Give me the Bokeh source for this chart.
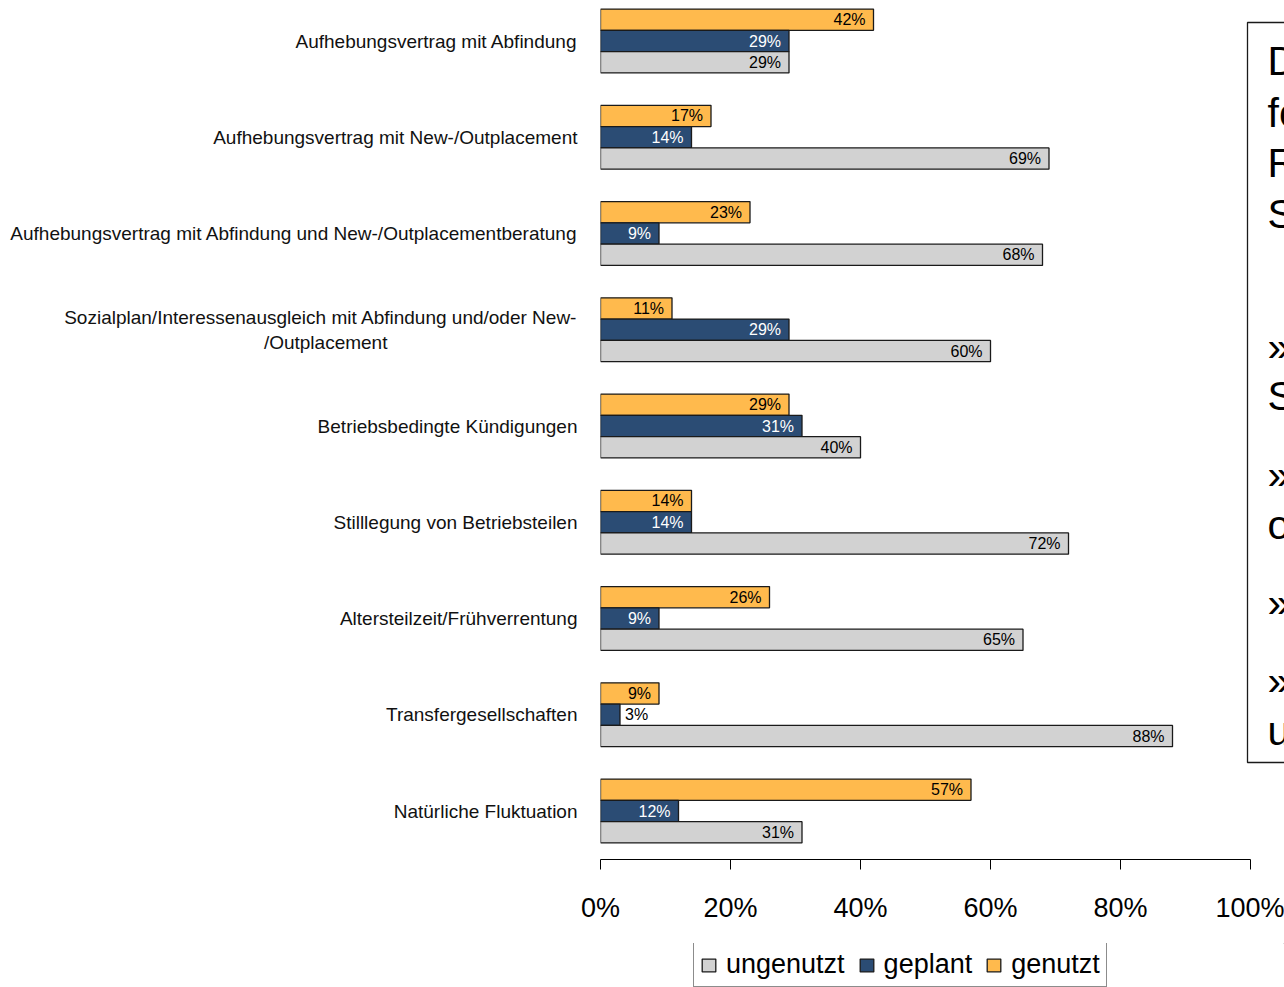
from bokeh.plotting import figure
from bokeh.models import ColumnDataSource, FixedTicker, Legend, LegendItem, Range1d
from bokeh.layouts import column
from bokeh.core.properties import value
from bokeh.embed import file_html
from bokeh.resources import INLINE

# ---------------- data ----------------
categories = [
    "Aufhebungsvertrag mit Abfindung",
    "Aufhebungsvertrag mit New-/Outplacement",
    "Aufhebungsvertrag mit Abfindung und New-/Outplacementberatung",
    "Sozialplan/Interessenausgleich mit Abfindung und/oder New-\n/Outplacement",
    "Betriebsbedingte Kündigungen",
    "Stilllegung von Betriebsteilen",
    "Altersteilzeit/Frühverrentung",
    "Transfergesellschaften",
    "Natürliche Fluktuation",
]
genutzt = [42, 17, 23, 11, 29, 14, 26, 9, 57]
geplant = [29, 14, 9, 29, 31, 14, 9, 3, 12]
ungenutzt = [29, 69, 68, 60, 40, 72, 65, 88, 31]
series_names = ["ungenutzt", "geplant", "genutzt"]
x_ticks = [0, 20, 40, 60, 80, 100]
x_tick_labels = ["0%", "20%", "40%", "60%", "80%", "100%"]
textbox_lines = ["D", "fo", "R", "S", "»", "S", "»", "o", "»", "»", "u"]

# ---------------- styling / layout ----------------
FONT = "'Liberation Sans', Arial, sans-serif"
C_ORANGE = "#FFBA4D"
C_BLUE = "#2B4C74"
C_GRAY = "#D2D2D2"
EDGE = "#1a1a1a"

W = 1284
H_MAIN = 943
H_LEG = 44
LEFT = 600
FRAME_H = 859
UNIT = 96.25                      # px per category
N = len(categories)
Y_END = (N - 1) + 40.5 / UNIT
Y_START = Y_END - FRAME_H / UNIT
X_END = 100 * (W - LEFT) / 650.0
BAR = 21.3 / UNIT

def ypix(p):
    return Y_END - p / UNIT

def xpix(p):
    return 100 * (p - LEFT) / 650.0

def centre_last_line(label, pad):
    # second line of a wrapped label is centred under the first in the original
    if "\n" not in label:
        return label
    return label + "\u00a0" * pad

p = figure(width=W, height=H_MAIN, output_backend="svg", toolbar_location=None,
           x_range=Range1d(0, X_END), y_range=Range1d(Y_START, Y_END),
           min_border_left=LEFT, min_border_right=0, min_border_top=0,
           min_border_bottom=H_MAIN - FRAME_H, background_fill_color="white",
           border_fill_color="white", outline_line_color=None)
p.grid.visible = False

centers = [N - 1 - i for i in range(N)]
offsets = {"genutzt": BAR, "geplant": 0.0, "ungenutzt": -BAR}
vals = {"genutzt": genutzt, "geplant": geplant, "ungenutzt": ungenutzt}
colors = {"genutzt": C_ORANGE, "geplant": C_BLUE, "ungenutzt": C_GRAY}
inside_col = {"genutzt": "black", "geplant": "white", "ungenutzt": "black"}

for s in ["genutzt", "geplant", "ungenutzt"]:
    ys = [c + offsets[s] for c in centers]
    src = ColumnDataSource(dict(y=ys, v=vals[s]))
    p.hbar(y="y", left=0, right="v", height=BAR, source=src,
           fill_color=colors[s], line_color=EDGE, line_width=1.3)
    ins = [(y, v) for y, v in zip(ys, vals[s]) if v >= 6]
    out = [(y, v) for y, v in zip(ys, vals[s]) if v < 6]
    if ins:
        p.text(x=[v for _, v in ins], y=[y for y, _ in ins],
               text=[f"{v}%" for _, v in ins], x_offset=-8,
               text_align="right", text_baseline="middle",
               text_font=value(FONT), text_font_size="16px",
               text_color=inside_col[s])
    if out:
        p.text(x=[v for _, v in out], y=[y for y, _ in out],
               text=[f"{v}%" for _, v in out], x_offset=5,
               text_align="left", text_baseline="middle",
               text_font=value(FONT), text_font_size="16px",
               text_color="black")

# text box on the right (clipped by the window edge)
p.quad(left=[xpix(1247)], right=[X_END + 5], top=[ypix(22)], bottom=[ypix(762)],
       fill_color="white", line_color=EDGE, line_width=1.3)
tb_pix = [60, 112, 162, 213, 346, 395, 474, 524, 602, 680, 730]
p.text(x=[xpix(1267)] * len(textbox_lines), y=[ypix(q) for q in tb_pix],
       text=textbox_lines, text_align="left", text_baseline="middle",
       text_font=value(FONT), text_font_size="41px", text_color="black")

# x axis
xa = p.xaxis[0]
xa.ticker = FixedTicker(ticks=x_ticks)
xa.major_label_overrides = {t: l for t, l in zip(x_ticks, x_tick_labels)}
xa.bounds = (0, 100)
xa.minor_tick_line_color = None
xa.major_tick_in = 0
xa.major_tick_out = 10
xa.axis_line_color = "black"
xa.major_tick_line_color = "black"
xa.major_label_text_font = FONT
xa.major_label_text_font_size = "27px"
xa.major_label_text_color = "black"
xa.major_label_standoff = 23

# y axis (category labels)
ya = p.yaxis[0]
ya.ticker = FixedTicker(ticks=centers)
ya.major_label_overrides = {c: centre_last_line(cat, 36) for c, cat in zip(centers, categories)}
ya.axis_line_color = None
ya.major_tick_line_color = None
ya.minor_tick_line_color = None
ya.major_label_text_font = FONT
ya.major_label_text_font_size = "19px"
ya.major_label_text_color = "#111111"
ya.major_label_standoff = 17

# ---------------- legend strip (below the axis) ----------------
pl = figure(width=W, height=H_LEG, output_backend="svg", toolbar_location=None,
            x_range=Range1d(0, 1), y_range=Range1d(0, 1),
            x_axis_type=None, y_axis_type=None,
            min_border_left=LEFT, min_border_right=0, min_border_top=0,
            min_border_bottom=0, background_fill_color="white",
            border_fill_color="white", outline_line_color=None)
pl.grid.visible = False
leg_r = {}
for s in series_names:
    # renderers lie outside the visible range; they only feed the legend swatches
    leg_r[s] = pl.hbar(y=[5], left=[5], right=[6], height=0.1,
                       fill_color=colors[s], line_color=EDGE, line_width=1.3)

legend = Legend(items=[LegendItem(label=n, renderers=[leg_r[n]]) for n in series_names],
                orientation="horizontal", location=(93, 0),
                label_text_font=FONT, label_text_font_size="27px",
                label_text_color="black",
                glyph_width=17, glyph_height=16, label_standoff=9, spacing=13,
                padding=6, margin=0, border_line_color=EDGE, border_line_width=1.3,
                background_fill_color="white", background_fill_alpha=1.0)
pl.add_layout(legend, "center")

layout = column(p, pl, spacing=0)
open("out.html", "w").write(file_html(layout, INLINE))
